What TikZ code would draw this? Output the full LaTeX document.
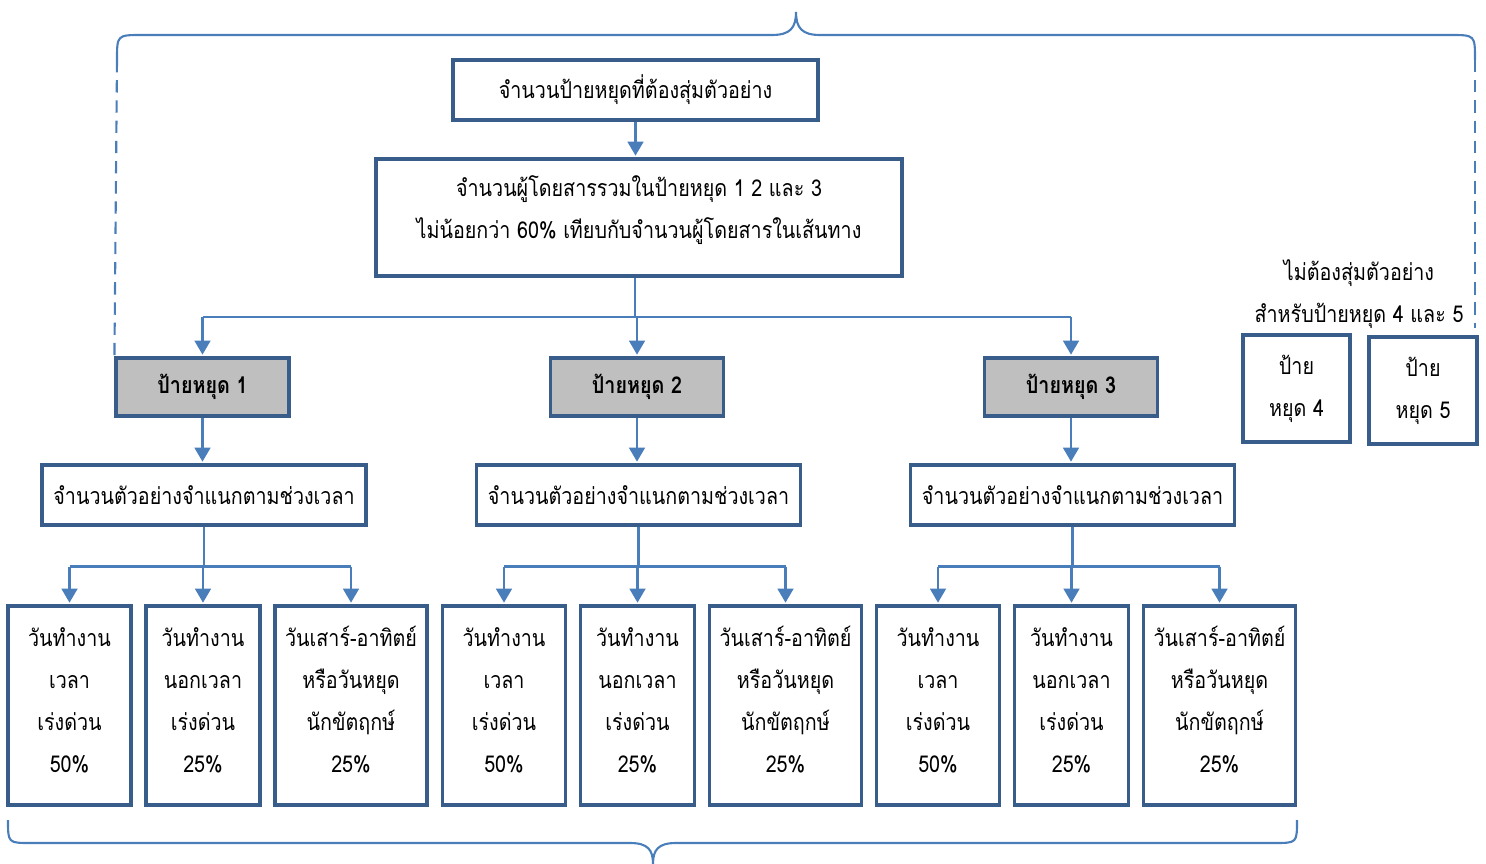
\documentclass[tikz,border=0pt]{standalone}
\usepackage{fontspec}
\setmainfont[Script=Thai,FakeStretch=0.85]{Loma}
\usetikzlibrary{arrows.meta}
\definecolor{framecol}{HTML}{385D8A}
\definecolor{linkcol}{HTML}{4A7EBB}
\definecolor{stopgray}{HTML}{BFBFBF}

\begin{document}
\begin{tikzpicture}[x=0.02cm,y=-0.02cm,
  cell/.style={draw=framecol,line width=1.8pt,fill=white,inner sep=0},
  stopbox/.style={cell,fill=stopgray,minimum width=3.46cm,minimum height=1.16cm,text depth=0.12cm,font=\fontsize{13.2}{24}\selectfont\bfseries},
  txt/.style={align=center,inner sep=0,font=\fontsize{13.2}{23.9}\selectfont},
  conn/.style={draw=linkcol,line width=1.3pt},
  arr/.style={conn,-{Triangle[width=9pt,length=8pt]},shorten >=1pt},
  brace/.style={draw=linkcol,line width=1.2pt}]

\useasboundingbox (0,0) rectangle (1486,864);

% top of the tree
\node[cell,txt,minimum width=7.3cm,minimum height=1.2cm] (need) at (635.5,90) {จำนวนป้ายหยุดที่ต้องสุ่มตัวอย่าง};
\node[cell,minimum width=10.52cm,minimum height=2.34cm] (share) at (639,217.5) {};
\node[txt] (sharet) at (639,210) {จำนวนผู้โดยสารรวมในป้ายหยุด 1 2 และ 3\\ไม่น้อยกว่า 60\% เทียบกับจำนวนผู้โดยสารในเส้นทาง};
\draw[arr] (need.south) -- (need.south |- share.north);
\coordinate (split) at (635,317);

\foreach \g/\ox in {1/0,2/434.5,3/868.5}{%
  \node[stopbox] (stop\g) at (202.5+\ox,387) {ป้ายหยุด \g};
  \node[cell,txt,minimum width=6.48cm,minimum height=1.2cm] (kind\g) at (204+\ox,495) {จำนวนตัวอย่างจำแนกตามช่วงเวลา};
  \node[cell,minimum width=2.46cm,minimum height=3.98cm] (rush\g) at (69.5+\ox,705.5) {};
  \node[cell,minimum width=2.28cm,minimum height=3.98cm] (off\g) at (203+\ox,705.5) {};
  \node[cell,minimum width=3.04cm,minimum height=3.98cm] (hol\g) at (351+\ox,705.5) {};
  \node[txt,yshift=0.11cm] (rusht\g) at (rush\g.center) {วันทำงาน\\เวลา\\เร่งด่วน\\50\%};
  \node[txt,yshift=0.11cm] (offt\g) at (off\g.center) {วันทำงาน\\นอกเวลา\\เร่งด่วน\\25\%};
  \node[txt,yshift=0.11cm] (holt\g) at (hol\g.center) {วันเสาร์-อาทิตย์\\หรือวันหยุด\\นักขัตฤกษ์\\25\%};
  \draw[arr] (split -| stop\g.north) -- (stop\g.north);
  \draw[arr] (stop\g.south) -- (stop\g.south |- kind\g.north);
  \draw[conn] (kind\g.south) -- ++(0,40) coordinate (fork\g);
  \draw[conn] (rush\g.north |- fork\g) -- (hol\g.north |- fork\g);
  \foreach \b in {rush,off,hol}
    \draw[arr] (\b\g.north |- fork\g) -- (\b\g.north);
}
\draw[conn] (share.south -| split) -- (split);
\draw[conn] (split -| stop1.north) -- (split -| stop3.north);

% stops 4 and 5
\node[txt] (skipt) at (1359,294.5) {ไม่ต้องสุ่มตัวอย่าง\\สำหรับป้ายหยุด 4 และ 5};
\node[cell,minimum width=2.14cm,minimum height=2.14cm] (stop4) at (1296.5,388.5) {};
\node[cell,minimum width=2.16cm,minimum height=2.14cm] (stop5) at (1423,390.5) {};
\node[txt] (stop4t) at (stop4.center) {ป้าย\\หยุด 4};
\node[txt] (stop5t) at (stop5.center) {ป้าย\\หยุด 5};

% braces
\draw[brace] (117,60) .. controls (117,35) .. (142,35) -- (772,35)
  .. controls (790,35) and (796,28) .. (796,12)
  .. controls (796,28) and (802,35) .. (820,35) -- (1450,35)
  .. controls (1475,35) .. (1475,60);
\draw[brace,dash pattern=on 7pt off 4.5pt] (117,60) -- (stop1.north west);
\draw[brace,dash pattern=on 7pt off 4.5pt] (1475,60) -- (1475,328);
\draw[brace] (8,820) .. controls (8,843) .. (31,843) -- (630,843)
  .. controls (648,843) and (653,850) .. (653,864)
  .. controls (653,850) and (658,843) .. (676,843) -- (1274,843)
  .. controls (1297,843) .. (1297,820);
\end{tikzpicture}
\end{document}
